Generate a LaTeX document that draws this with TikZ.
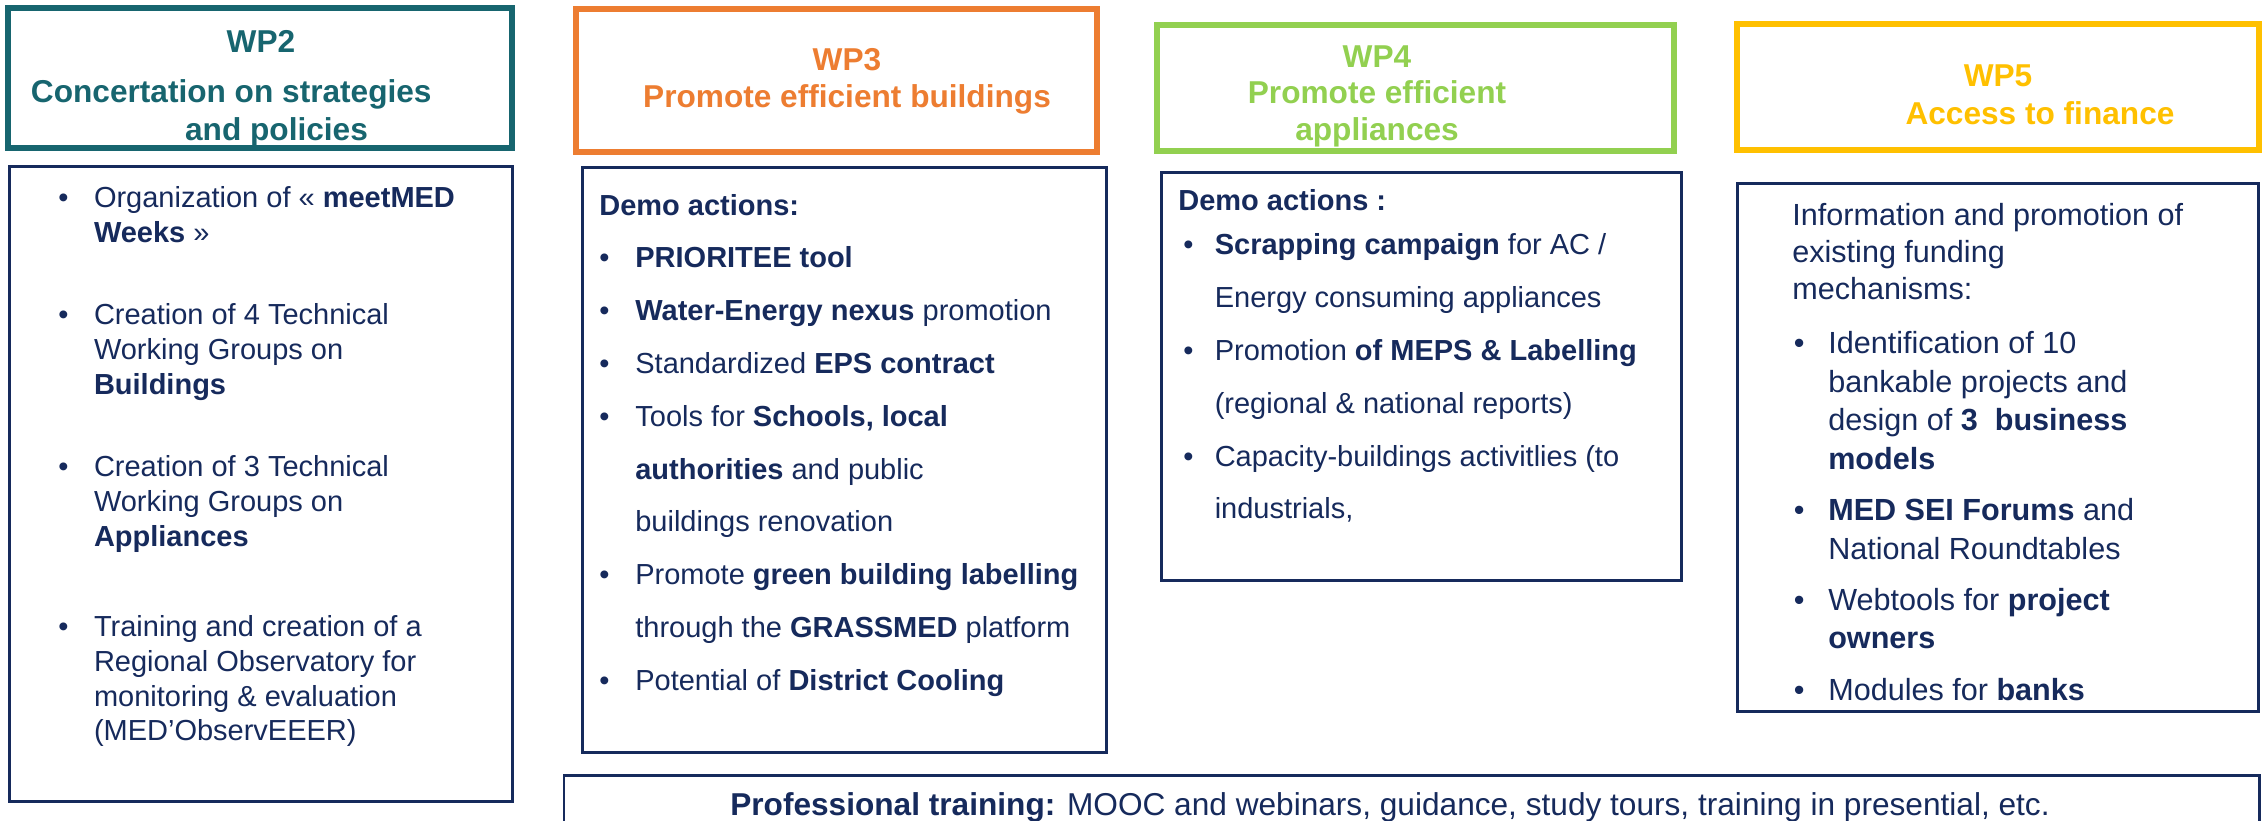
\documentclass[tikz,border=0pt]{standalone}
\usepackage{fontspec}
\setmainfont{Liberation Sans}
\usetikzlibrary{fit}
\definecolor{wpteal}{HTML}{17656F}
\definecolor{wporange}{HTML}{ED7D31}
\definecolor{wpgreen}{HTML}{92D050}
\definecolor{wpyellow}{HTML}{FFC000}
\definecolor{wpnavy}{HTML}{162A5C}
\newcommand\bul[1]{\makebox[#1][l]{•}}
\newcommand\ind[1]{\hspace*{#1}}
\newcommand\fl{\rule{0pt}{14pt}}
\tikzset{
  hdrbox/.style={rectangle, draw, line width=3.1pt, inner sep=0pt},
  bodybox/.style={rectangle, draw=wpnavy, line width=1.7pt, inner sep=0pt},
  hdrtext/.style={font=\bfseries\fontsize{18}{21.6}\selectfont, inner sep=0pt, anchor=base},
  bodytext/.style={text=wpnavy, inner sep=0pt, align=left, anchor=north west},
}
\begin{document}
\begin{tikzpicture}[x=0.02cm, y=-0.02cm]
\useasboundingbox (0,0) rectangle (2262,821);
\clip (0,0) rectangle (2262,821);
\fill[white] (0,0) rectangle (2262,821);

% ---------- header boxes ----------
\node[hdrbox, draw=wpteal,   fit={(8,8) (512,148)}] (wp2h) {};
\node[hdrbox, draw=wporange, fit={(576,9) (1097,152)}] (wp3h) {};
\node[hdrbox, draw=wpgreen,  fit={(1157,25) (1674,151)}] (wp4h) {};
\node[hdrbox, draw=wpyellow, fit={(1737,24) (2259,150)}] (wp5h) {};

% ---------- header texts ----------
\node[hdrtext, text=wpteal] (wp2t) at (261,52.4) {WP2};
\node[hdrtext, text=wpteal, anchor=base west] (wp2a) at (30.6,103) {Concertation on strategies};
\node[hdrtext, text=wpteal] (wp2b) at (276.5,140) {and policies};

\node[hdrtext, text=wporange] (wp3t) at (847,70.7) {WP3};
\node[hdrtext, text=wporange] (wp3a) at (847,107.3) {Promote efficient buildings};

\node[hdrtext, text=wpgreen] (wp4t) at (1377,68) {WP4};
\node[hdrtext, text=wpgreen] (wp4a) at (1377,104) {Promote efficient};
\node[hdrtext, text=wpgreen] (wp4b) at (1377,140.8) {appliances};

\node[hdrtext, text=wpyellow] (wp5t) at (1998,86.3) {WP5};
\node[hdrtext, text=wpyellow] (wp5a) at (2040,125) {Access to finance};

% ---------- body boxes ----------
\node[bodybox, fit={(9.5,166.5) (512.5,801.5)}] (wp2b0) {};
\node[bodybox, fit={(582.5,167.5) (1106.5,752.5)}] (wp3b0) {};
\node[bodybox, fit={(1161.5,172.5) (1681.5,580.5)}] (wp4b0) {};
\node[bodybox, fit={(1737.5,183.5) (2258.5,711.5)}] (wp5b0) {};
\node[bodybox, fit={(564,775) (2259,840)}] (trainbox) {};

% ---------- WP2 body ----------
\node[bodytext, font=\fontsize{16.5}{19.9}\selectfont] (wp2list) at (58,182.1) {%
\fl\bul{20.3pt}Organization of « \textbf{meetMED}\\
\ind{20.3pt}\textbf{Weeks} »\\[27pt]
\bul{20.3pt}Creation of 4 Technical\\
\ind{20.3pt}Working Groups on\\
\ind{20.3pt}\textbf{Buildings}\\[27pt]
\bul{20.3pt}Creation of 3 Technical\\
\ind{20.3pt}Working Groups on\\
\ind{20.3pt}\textbf{Appliances}\\[31pt]
\bul{20.3pt}Training and creation of a\\
\ind{20.3pt}Regional Observatory for\\
\ind{20.3pt}monitoring \& evaluation\\
\ind{20.3pt}(MED’ObservEEER)};

% ---------- WP3 body ----------
\node[bodytext, font=\fontsize{16.5}{30.05}\selectfont] (wp3list) at (599,190.1) {%
\fl\textbf{Demo actions:}\\
\bul{20.5pt}\textbf{PRIORITEE tool}\\
\bul{20.5pt}\textbf{Water-Energy nexus} promotion\\
\bul{20.5pt}Standardized \textbf{EPS contract}\\
\bul{20.5pt}Tools for \textbf{Schools, local}\\
\ind{20.5pt}\textbf{authorities} and public\\
\ind{20.5pt}buildings renovation\\
\bul{20.5pt}Promote \textbf{green building labelling}\\
\ind{20.5pt}through the \textbf{GRASSMED} platform\\
\bul{20.5pt}Potential of \textbf{District Cooling}};

% ---------- WP4 body ----------
\node[font=\bfseries\fontsize{16.5}{19.8}\selectfont, text=wpnavy, inner sep=0pt, anchor=base west] (wp4demo) at (1178,210.5) {Demo actions :};
\node[bodytext, font=\fontsize{16.5}{30.05}\selectfont] (wp4list) at (1183,229.9) {%
\fl\bul{17.9pt}\textbf{Scrapping campaign} for AC /\\
\ind{17.9pt}Energy consuming appliances\\
\bul{17.9pt}Promotion \textbf{of MEPS \& Labelling}\\
\ind{17.9pt}(regional \& national reports)\\
\bul{17.9pt}Capacity-buildings activitlies (to\\
\ind{17.9pt}industrials,};

% ---------- WP5 body ----------
\node[bodytext, font=\fontsize{17.4}{21.05}\selectfont] (wp5intro) at (1792,200.4) {%
\fl Information and promotion of\\
existing funding\\
mechanisms:};
\node[bodytext, font=\fontsize{17.4}{21.9}\selectfont] (wp5list) at (1793.5,328.7) {%
\fl\bul{19.6pt}Identification of 10\\
\ind{19.6pt}bankable projects and\\
\ind{19.6pt}design of \textbf{3 \ business}\\
\ind{19.6pt}\textbf{models}\\[7.4pt]
\bul{19.6pt}\textbf{MED SEI Forums} and\\
\ind{19.6pt}National Roundtables\\[7.4pt]
\bul{19.6pt}Webtools for \textbf{project}\\
\ind{19.6pt}\textbf{owners}\\[7.4pt]
\bul{19.6pt}Modules for \textbf{banks}};

% ---------- bottom text ----------
\node[font=\fontsize{18}{21.6}\selectfont, text=wpnavy, inner sep=0pt, anchor=base] (traintxt) at (1390,815)
  {\textbf{Professional training:} MOOC and webinars, guidance, study tours, training in presential, etc.};
\end{tikzpicture}
\end{document}
